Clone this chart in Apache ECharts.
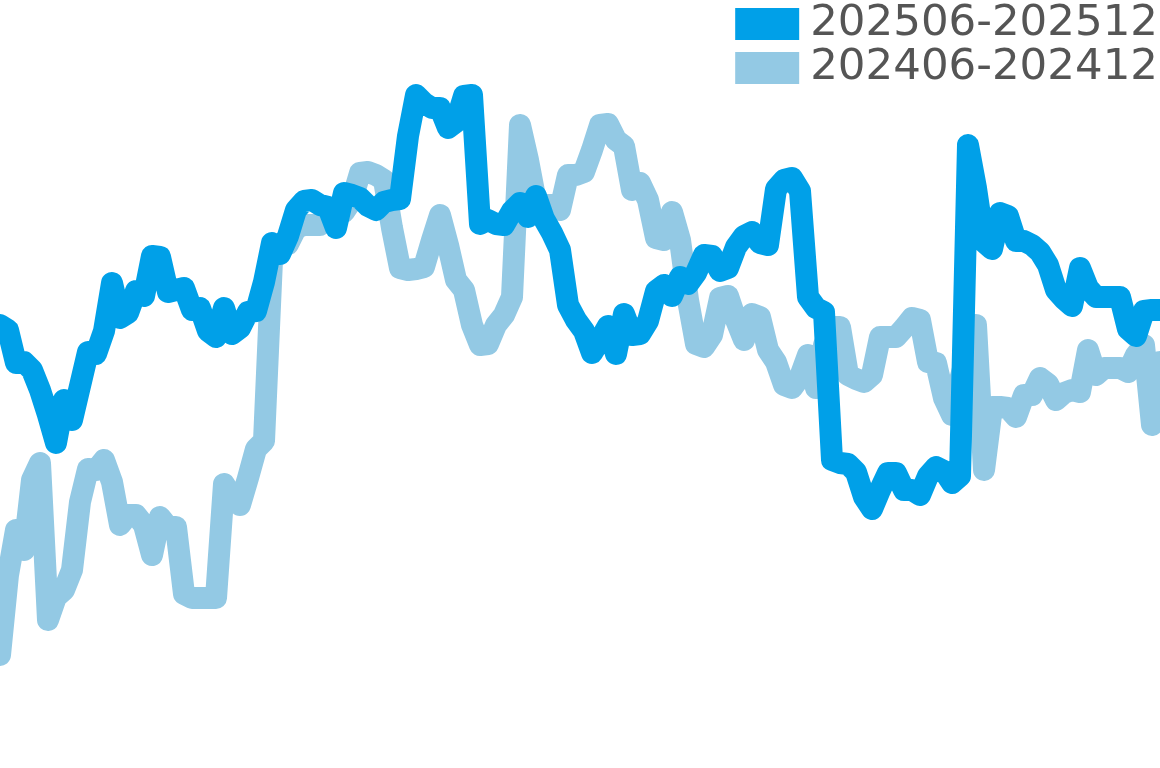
<!DOCTYPE html>
<html>
<head>
<meta charset="utf-8">
<script src="https://cdn.jsdelivr.net/npm/echarts@6/dist/echarts.min.js"></script>
<style>
html,body{margin:0;padding:0;background:#fff;}
#chart{width:1160px;height:768px;}
</style>
</head>
<body>
<div id="chart"></div>
<script>
var seriesNames = ['202506-202512', '202406-202412'];

var current = [443,438,405,406,398,378,353,325,368,348,382,416,414,437,485,450,455,477,472,512,
511,476,478,480,458,460,437,431,460,434,440,456,457,486,525,514,532,558,567,568,
563,561,540,575,573,570,562,558,566,568,569,632,673,665,660,660,640,646,672,673,
544,548,544,543,557,565,551,572,549,535,518,463,448,437,415,428,442,414,454,433,
434,447,477,483,472,491,484,495,513,512,497,500,521,532,536,525,523,579,588,590,
577,471,460,456,308,305,304,296,271,259,278,295,295,278,278,273,292,301,297,285,
292,623,580,526,519,555,552,527,527,523,516,503,478,469,462,500,480,471,471,471,
471,439,432,457,458,458];

var previous = [113,193,238,218,288,305,148,171,178,198,266,299,298,308,286,243,253,253,243,213,
251,241,241,174,170,170,170,170,284,271,263,290,319,327,508,523,524,540,543,543,
543,549,554,556,568,595,596,593,588,540,500,498,499,501,528,553,523,488,478,443,
423,424,443,453,471,643,608,566,563,563,558,593,593,596,618,643,644,628,622,578,
585,568,530,528,556,528,468,424,421,433,470,472,448,428,454,451,418,406,383,380,
391,413,380,423,441,441,393,389,386,393,431,431,431,440,450,448,406,405,370,353,
388,418,443,298,361,361,360,351,373,373,390,384,368,375,378,376,418,393,400,400,
400,396,413,423,343,406];

var categories = Array.from({length: current.length}, function (_, i) { return String(i + 1); });

var chart = echarts.init(document.getElementById('chart'));
chart.setOption({
  animation: false,
  backgroundColor: '#ffffff',
  grid: {left: 0, right: 0, top: 0, bottom: 0},
  legend: {
    data: seriesNames,
    orient: 'vertical',
    right: 2,
    top: 2,
    padding: 0,
    itemGap: 0,
    itemWidth: 64,
    itemHeight: 32,
    icon: 'rect',
    textStyle: {fontSize: 43.5, color: '#555555', fontFamily: 'DejaVu Sans', lineHeight: 44, padding: [0, 0, 0, 6]}
  },
  xAxis: {type: 'category', data: categories, boundaryGap: false, show: false},
  yAxis: {type: 'value', min: 0, max: 768, show: false},
  series: [
    {
      name: seriesNames[1],
      type: 'line',
      data: previous,
      showSymbol: false,
      color: '#93c9e4',
      lineStyle: {width: 22, color: '#93c9e4', cap: 'round', join: 'round'}
    },
    {
      name: seriesNames[0],
      type: 'line',
      data: current,
      showSymbol: false,
      color: '#00a0e8',
      lineStyle: {width: 22, color: '#00a0e8', cap: 'round', join: 'round'}
    }
  ]
});
</script>
</body>
</html>
